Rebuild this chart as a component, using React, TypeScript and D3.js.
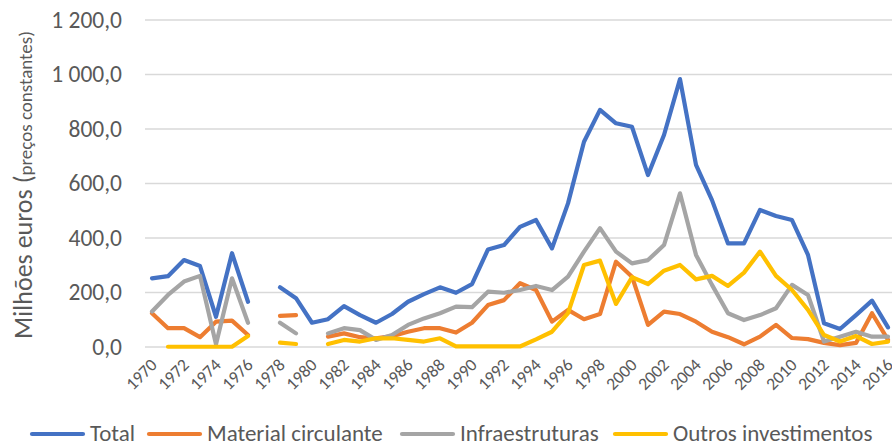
import React from "react";
import * as d3 from "d3";

const years = d3.range(1970, 2017);

const total = [
  252, 260, 319, 297, 111, 344, 166, null, 219, 179,
  89, 102, 150, 117, 89, 121, 166, 194, 219, 199,
  231, 358, 374, 441, 466, 362, 527, 753, 870, 821,
  808, 631, 778, 983, 668, 539, 380, 380, 503, 481,
  466, 338, 87, 66, 117, 170, 72,
];

const material = [
  124, 69, 69, 36, 93, 97, 44, null, 114, 117,
  null, 38, 50, 36, 32, 40, 56, 69, 69, 53,
  89, 154, 172, 234, 209, 93, 136, 102, 121, 313,
  258, 81, 130, 121, 93, 56, 36, 10, 38, 81,
  33, 29, 15, 7, 15, 124, 26,
];

const infra = [
  130, 191, 240, 261, 10, 252, 89, null, 89, 50,
  null, 50, 69, 62, 26, 44, 81, 105, 124, 148,
  146, 203, 199, 209, 224, 209, 258, 350, 436, 350,
  307, 319, 374, 564, 338, 228, 124, 99, 117, 142,
  228, 191, 20, 38, 56, 38, 38,
];

const outros = [
  null, 1, 1, 1, 1, 1, 40, null, 16, 11,
  null, 11, 26, 20, 32, 32, 26, 20, 32, 2,
  2, 2, 2, 2, 28, 56, 124, 301, 317, 158,
  256, 231, 280, 301, 248, 261, 224, 273, 350, 261,
  209, 136, 44, 20, 40, 11, 20,
];

const seriesNames = ["Total", "Material circulante", "Infraestruturas", "Outros investimentos"];
const seriesValues = [total, material, infra, outros];
const colors = ["#4472C4", "#ED7D31", "#A5A5A5", "#FFC000"];
const yTicks = [0, 200, 400, 600, 800, 1000, 1200];

// legend item starts (layout only)
const legendX = [30, 147, 400, 613];

const font = "Calibri, Carlito, 'Open Sans', sans-serif";

const App = () => {
  const width = 892;
  const height = 444;
  const left = 144;
  const bandW = 16;

  const x = d3
    .scaleBand<number>()
    .domain(years)
    .range([left, left + years.length * bandW])
    .padding(0);
  const cx = (yr: number) => (x(yr) as number) + x.bandwidth() / 2;

  const y = d3.scaleLinear().domain([0, 1200]).range([347, 20]);

  const fmt = d3.formatLocale({ decimal: ",", thousands: " ", grouping: [3], currency: ["", "€"] }).format(",.1f");

  const line = d3
    .line<number | null>()
    .defined((d) => d !== null)
    .x((d, i) => cx(years[i]))
    .y((d) => y(d as number));

  return (
    <svg
      width={width}
      height={height}
      style={{ position: "absolute", left: 0, top: 0, background: "#fff" }}
    >
      <g className="grid">
        {yTicks.map((t) => (
          <line
            key={t}
            x1={left + 1}
            x2={left + years.length * bandW}
            y1={y(t)}
            y2={y(t)}
            stroke="#D9D9D9"
            strokeWidth={1.3}
          />
        ))}
      </g>
      <g className="y-labels" fontFamily={font} fontSize={23.5} fill="#595959">
        {yTicks.map((t) => (
          <text key={t} x={122} y={y(t)} dy="0.33em" textAnchor="end">
            {fmt(t)}
          </text>
        ))}
      </g>
      <text
        fontFamily={font}
        fill="#595959"
        textAnchor="middle"
        transform={`translate(32,185) rotate(-90)`}
      >
        <tspan fontSize={26}>Milhões euros (</tspan>
        <tspan fontSize={19}>preços constantes)</tspan>
      </text>
      <g className="x-labels" fontFamily={font} fontSize={17.5} fill="#595959">
        {years
          .filter((yr) => (yr - 1970) % 2 === 0)
          .map((yr) => (
            <text
              key={yr}
              textAnchor="end"
              transform={`translate(${cx(yr) + 6},366) rotate(-45)`}
            >
              {yr}
            </text>
          ))}
      </g>
      <g className="lines">
        {seriesValues.map((vals, i) => (
          <path
            key={seriesNames[i]}
            d={line(vals) || ""}
            fill="none"
            stroke={colors[i]}
            strokeWidth={4.2}
            strokeLinejoin="round"
            strokeLinecap="round"
          />
        ))}
      </g>
      <g className="legend" fontFamily={font} fontSize={23} fill="#595959">
        {seriesNames.map((name, i) => (
          <g key={name} transform={`translate(${legendX[i]},434)`}>
            <line x1={2} x2={53} y1={0} y2={0} stroke={colors[i]} strokeWidth={4.2} strokeLinecap="round" />
            <text x={60} y={0} dy="0.3em">
              {name}
            </text>
          </g>
        ))}
      </g>
    </svg>
  );
};

export default App;
